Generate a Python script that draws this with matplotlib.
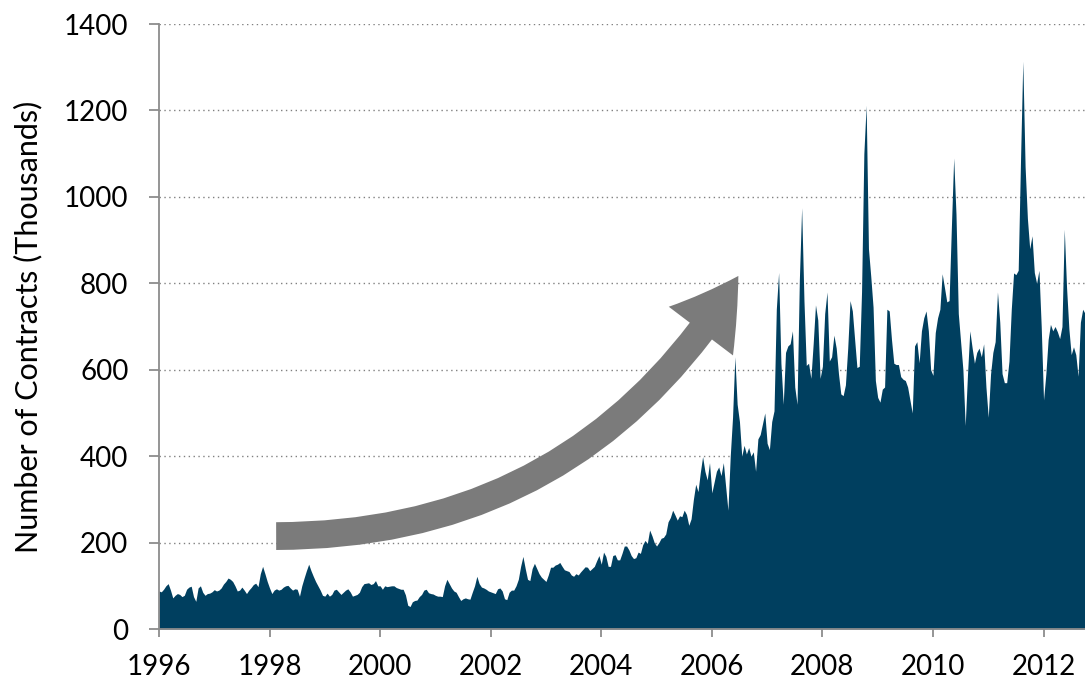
import matplotlib
matplotlib.use("Agg")
import matplotlib.pyplot as plt
from matplotlib.patches import FancyArrowPatch
import numpy as np

plt.rcParams['font.family'] = ['Lato', 'DejaVu Sans']

# semi-monthly open interest, thousands of contracts
v96_99 = [88, 86, 92, 100, 105, 90, 72, 78, 82, 80, 75, 78,
          92, 97, 99, 75, 64, 95, 100, 85, 78, 82, 83, 86,
          91, 88, 90, 95, 104, 110, 118, 115, 110, 100, 88, 90,
          97, 90, 82, 90, 96, 103, 106, 98, 128, 145, 128, 110,
          95, 82, 90, 93, 90, 92, 97, 100, 101, 95, 90, 93,
          92, 76, 100, 118, 135, 150, 135, 122, 110, 100, 90, 78,
          76, 83, 76, 80, 90, 92, 86, 80, 85, 90, 93, 86,
          76, 78, 80, 85, 98, 105, 106, 107, 103, 105, 112, 100]
v00_03 = [100, 92, 100, 98, 99, 100, 100, 96, 94, 92, 92, 79,
          55, 52, 63, 66, 67, 75, 80, 90, 92, 84, 82, 81,
          78, 76, 76, 75, 100, 115, 105, 95, 88, 85, 75, 66,
          70, 72, 70, 69, 85, 100, 122, 105, 97, 95, 92, 88,
          86, 84, 82, 93, 95, 88, 70, 68, 85, 90, 90, 100,
          115, 145, 168, 140, 115, 112, 140, 152, 140, 128, 120, 115,
          110, 125, 143, 143, 148, 150, 154, 145, 137, 135, 133, 125,
          122, 128, 125, 132, 138, 144, 143, 135, 140, 145, 158, 170]
v04_05 = [150, 178, 168, 145, 145, 170, 172, 160, 160, 175, 192, 192,
          183, 170, 163, 165, 178, 175, 195, 205, 198, 229, 216, 200,
          192, 200, 210, 212, 220, 248, 258, 275, 264, 252, 262, 260,
          275, 265, 240, 255, 300, 335, 318, 362, 399, 365, 345, 385]
v06_07 = [315, 340, 365, 375, 355, 385, 330, 275, 400, 490, 630, 520,
          480, 400, 425, 405, 420, 400, 410, 365, 440, 450, 475, 500,
          430, 415, 480, 505, 740, 825, 615, 520, 640, 655, 660, 690,
          560, 520, 808, 975, 760, 610, 615, 580, 660, 750, 715, 580]
v08_09 = [608, 730, 780, 620, 630, 680, 650, 590, 544, 540, 565, 650,
          760, 736, 670, 605, 608, 780, 1100, 1212, 880, 816, 745, 575,
          536, 525, 555, 560, 740, 736, 670, 615, 612, 612, 584, 578,
          575, 560, 530, 500, 655, 665, 616, 690, 720, 736, 690, 600]
v10_11 = [587, 686, 720, 740, 822, 790, 757, 760, 930, 1090, 960, 730,
          665, 600, 471, 590, 690, 651, 615, 640, 650, 630, 660, 560,
          490, 590, 640, 665, 780, 710, 591, 570, 570, 620, 740, 824,
          820, 830, 1082, 1314, 1070, 950, 880, 910, 825, 800, 830, 700]
v12 = [530, 590, 670, 705, 690, 700, 688, 672, 700, 925, 790, 695,
       635, 653, 635, 585, 710, 740, 730]

start_year = 1996
year_ticks = list(range(1996, 2013, 2))
y_ticks = [0, 200, 400, 600, 800, 1000, 1200, 1400]
ylabel = "Number of Contracts (Thousands)"

values = np.array(v96_99 + v00_03 + v04_05 + v06_07 + v08_09 + v10_11 + v12)
t = start_year + np.arange(len(values)) / 24.0

fig = plt.figure(figsize=(10.85, 6.84), dpi=100)
ax = fig.add_axes([0.1465, 0.0804, 0.8535, 0.8845])

ax.fill_between(t, 0, values, color='#003f5f', lw=0, zorder=2)

ax.set_xlim(start_year, t[-1])
ax.set_ylim(0, 1400)
ax.set_xticks(year_ticks)
ax.set_xticklabels([str(y) for y in year_ticks])
ax.set_yticks(y_ticks)

ax.grid(axis='y', linestyle=(0, (1, 2.5)), color='#808080', linewidth=1.0, zorder=1)
ax.set_axisbelow(True)

for s in ['top', 'right']:
    ax.spines[s].set_visible(False)
for s in ['left', 'bottom']:
    ax.spines[s].set_color('#8c8c8c')
    ax.spines[s].set_linewidth(1.3)
    ax.spines[s].set_zorder(3)

ax.tick_params(axis='y', length=7, width=1.3, color='#8c8c8c', pad=15, labelsize=20)
ax.tick_params(axis='x', length=6, width=1.3, color='#8c8c8c', pad=12, labelsize=20)

ax.set_ylabel(ylabel, fontsize=22)
ax.yaxis.set_label_coords(-0.126, 0.5)

# growth arrow
arrow = FancyArrowPatch((1998.12, 215), (2006.48, 817),
                        connectionstyle="arc3,rad=0.28",
                        arrowstyle="simple,head_length=48,head_width=58,tail_width=20",
                        mutation_scale=1, color='#7b7b7b', lw=0, zorder=4,
                        shrinkA=0, shrinkB=0)
ax.add_patch(arrow)

fig.savefig("out.png", dpi=100)
